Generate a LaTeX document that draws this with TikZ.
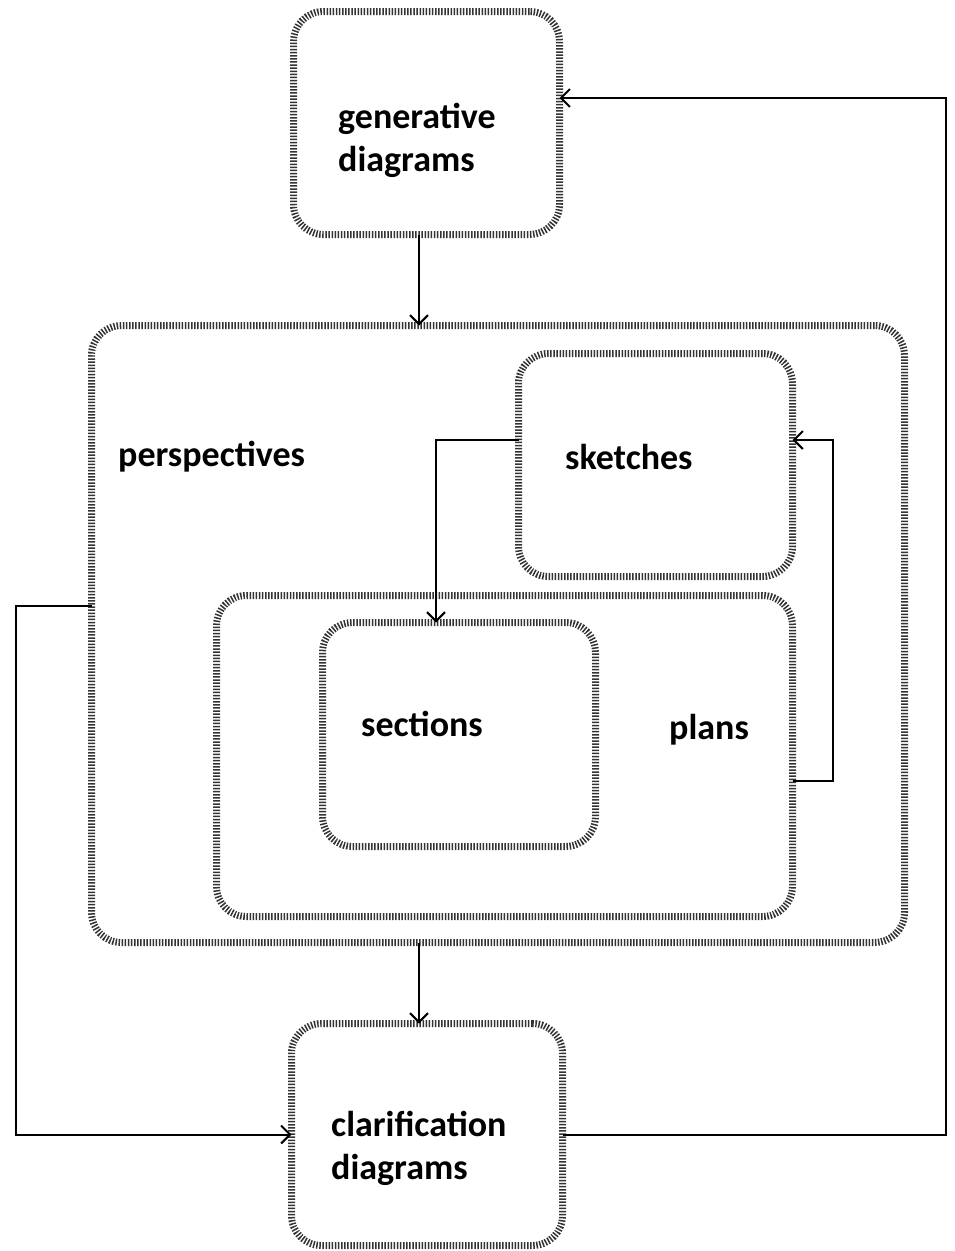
\documentclass[tikz,border=0pt]{standalone}
\usepackage{fontspec}
\setmainfont{Carlito}
\usetikzlibrary{arrows.meta}
\begin{document}
\begin{tikzpicture}[x=1pt,y=-1pt,
  hbox/.style={draw=black!80, line width=7pt, dash pattern=on 1.5pt off 1.6pt, rounded corners=30pt, inner sep=0pt, outer sep=0pt},
  lbl/.style={anchor=west, align=left, font=\fontsize{36}{43}\selectfont\bfseries, inner sep=0pt},
  arr/.style={draw=black, line width=2pt, -{Straight Barb[length=9pt,width=18pt,line width=2pt]}},
  ln/.style={draw=black, line width=2pt}]
\useasboundingbox (0,0) rectangle (955,1251);
\node[hbox, minimum width=266pt, minimum height=223pt] (gen) at (426.5,123) {};
\node[hbox, minimum width=813pt, minimum height=617pt] (persp) at (498,634) {};
\node[hbox, minimum width=274pt, minimum height=223pt] (sketch) at (655.5,465) {};
\node[hbox, minimum width=576pt, minimum height=321pt] (plans) at (504.5,756) {};
\node[hbox, minimum width=273pt, minimum height=224pt] (sections) at (459,734.5) {};
\node[hbox, minimum width=271pt, minimum height=222pt] (clar) at (427,1134.5) {};

\node[lbl] (tgen) at (338,140) {generative\\diagrams};
\node[lbl] (tpersp) at (118,457) {perspectives};
\node[lbl] (tsketch) at (565,457) {sketches};
\node[lbl] (tsect) at (361,724) {sections};
\node[lbl] (tplans) at (669,730) {plans};
\node[lbl] (tclar) at (331,1148) {clarification\\diagrams};

\coordinate (A) at (419,0);
\coordinate (L) at (16,606);
\coordinate (R) at (946,98);
\coordinate (S) at (436,440);
\coordinate (P) at (833,781);

\draw[arr] (gen.south -| A) -- (persp.north -| A);
\draw[arr] (persp.south -| A) -- (clar.north -| A);
\draw[arr] (persp.west |- L) -- (L) |- (clar.west);
\draw[arr] (clar.east) -| (R) -- (gen.east |- R);
\draw[arr] (sketch.west |- S) -| (sections.north -| S);
\draw[arr] (plans.east |- P) -- (P) |- (sketch.east |- S);
\end{tikzpicture}
\end{document}
